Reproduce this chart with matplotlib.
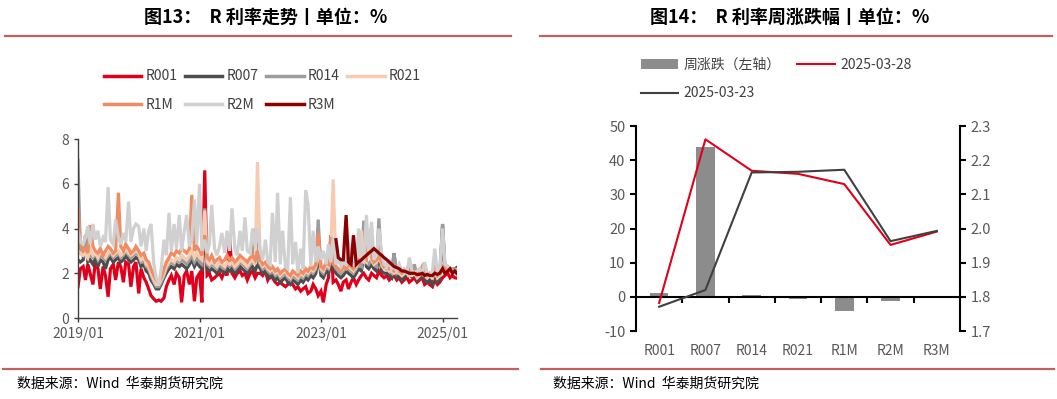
import numpy as np
import pandas as pd
import matplotlib
matplotlib.use("Agg")
import matplotlib.pyplot as plt
from matplotlib.lines import Line2D
import matplotlib.dates as mdates
from matplotlib.ticker import FormatStrFormatter

plt.rcParams['font.family'] = ['Noto Sans CJK SC', 'DejaVu Sans']
plt.rcParams['axes.unicode_minus'] = False

# ---------------- data: left panel (semi-monthly samples) ----------------
dates = list(pd.date_range('2019-01-01', '2025-03-15', freq='SMS')) + [pd.Timestamp('2025-03-28')]

r001 = [1.4, 2.2, 2.3, 1.7, 2.4, 2.0, 1.5, 2.5, 2.2, 1.3, 2.3, 1.9, 0.95, 2.2, 2.4, 1.7, 2.5, 2.3, 1.6, 2.5, 2.4, 1.4, 2.3, 2.5,
        1.1, 2.2, 1.8, 1.6, 1.3, 1.0, 0.85, 0.75, 0.8, 0.75, 0.9, 1.4, 1.7, 1.9, 1.5, 2.0, 1.8, 0.7, 1.9, 2.1, 1.5, 2.1, 0.75, 1.8,
        2.0, 0.7, 6.6, 1.9, 2.0, 1.7, 1.8, 1.9, 2.0, 1.8, 2.1, 1.9, 3.6, 2.0, 1.8, 2.0, 2.1, 1.9, 2.0, 1.7, 2.0, 2.1, 1.8, 2.0,
        2.0, 1.9, 2.1, 1.7, 1.9, 1.8, 1.6, 1.5, 1.6, 1.5, 1.4, 1.5, 1.6, 1.5, 1.3, 1.4, 1.2, 1.3, 1.4, 1.1, 1.2, 1.5, 1.3, 1.0,
        1.2, 0.7, 1.5, 1.8, 3.7, 1.6, 1.7, 1.5, 1.2, 1.6, 1.7, 1.3, 1.6, 1.8, 1.5, 1.7, 1.9, 2.0, 1.8, 1.7, 2.0, 1.9, 1.8, 2.1,
        1.9, 1.8, 1.9, 1.7, 1.8, 1.9, 1.7, 1.8, 1.6, 1.7, 1.8, 1.6, 1.7, 1.8, 1.6, 1.7, 1.8, 1.5, 1.6, 1.5, 1.4, 1.7, 1.5, 1.6,
        1.8, 1.9, 2.0, 1.8, 1.9, 1.8, 1.78]

r007 = [2.6, 2.5, 2.6, 3.7, 2.5, 2.6, 2.4, 2.7, 2.3, 2.6, 2.5, 2.2, 2.6, 2.7, 2.5, 2.6, 2.7, 2.5, 2.6, 2.8, 2.6, 2.5, 2.6, 2.7,
        2.6, 2.3, 2.4, 2.1, 2.0, 1.7, 1.5, 1.3, 1.3, 1.5, 1.8, 2.0, 2.2, 2.3, 2.2, 2.4, 2.3, 2.4, 2.3, 2.2, 2.4, 2.6, 2.3, 2.5,
        2.3, 2.2, 4.0, 2.2, 2.1, 2.2, 2.1, 2.0, 2.2, 2.1, 2.0, 2.2, 2.1, 2.2, 2.0, 2.1, 2.3, 2.2, 2.1, 2.0, 2.2, 2.3, 2.1, 2.4,
        2.2, 2.0, 2.1, 1.9, 1.8, 1.9, 1.7, 1.8, 1.6, 1.7, 1.8, 1.6, 1.5, 1.7, 1.6, 1.5, 1.7, 1.6, 1.8, 1.7, 1.9, 1.8, 2.0, 2.8,
        1.9, 1.8, 2.1, 2.0, 2.4, 2.3, 2.0, 1.9, 1.8, 1.9, 2.1, 2.0, 1.9, 1.8, 2.0, 2.2, 2.1, 2.8, 2.3, 2.2, 2.4, 2.2, 2.1, 2.9,
        2.1, 2.0, 2.0, 1.9, 1.8, 2.9, 1.8, 1.9, 1.7, 1.8, 1.9, 2.4, 1.8, 2.2, 1.7, 1.8, 2.0, 1.7, 1.6, 1.7, 1.5, 2.0, 1.6, 1.7,
        4.2, 2.1, 2.2, 2.1, 2.1, 2.2, 2.26]

r014 = [7.05, 2.9, 2.8, 3.6, 2.7, 2.8, 2.7, 2.9, 2.6, 2.8, 2.7, 2.6, 2.8, 2.9, 2.7, 2.8, 2.9, 2.7, 2.8, 3.0, 2.8, 2.7, 2.8, 2.9,
        2.8, 2.5, 2.6, 2.3, 2.2, 1.9, 1.6, 1.4, 1.4, 1.6, 1.9, 2.2, 2.4, 2.5, 2.4, 2.6, 2.5, 2.6, 2.5, 2.4, 2.6, 2.8, 2.5, 2.7,
        2.5, 2.4, 4.9, 2.4, 2.3, 2.4, 2.3, 2.2, 2.4, 2.3, 2.2, 2.4, 2.3, 2.4, 2.2, 2.3, 2.5, 2.4, 2.3, 2.2, 2.4, 2.5, 4.0, 2.6,
        2.4, 2.2, 2.3, 2.1, 2.0, 2.1, 1.9, 2.0, 1.8, 1.9, 2.0, 1.8, 1.7, 1.9, 1.8, 1.7, 1.9, 1.8, 2.0, 1.9, 2.1, 2.0, 2.2, 4.4,
        2.1, 2.0, 2.3, 2.2, 2.6, 2.5, 2.2, 2.1, 2.0, 2.1, 2.3, 2.2, 2.1, 2.0, 2.2, 2.4, 2.3, 4.35, 2.5, 2.4, 2.6, 2.4, 2.3, 4.45,
        2.3, 2.2, 2.2, 2.1, 2.0, 2.9, 2.0, 2.1, 1.9, 2.0, 2.1, 2.5, 2.0, 2.4, 1.9, 2.0, 2.2, 1.9, 1.8, 1.9, 1.8, 2.2, 1.8, 1.9,
        4.2, 2.3, 2.3, 2.2, 2.2, 2.2, 2.165]

r021 = [3.0, 2.9, 2.8, 2.9, 2.7, 3.1, 2.8, 2.9, 2.7, 3.0, 2.8, 2.7, 2.9, 3.0, 2.8, 2.9, 3.0, 2.8, 2.9, 3.1, 2.9, 2.8, 2.9, 3.0,
        2.9, 2.6, 2.7, 2.4, 2.3, 2.0, 1.7, 1.5, 1.5, 1.7, 2.0, 2.3, 2.5, 2.6, 2.5, 2.7, 2.6, 2.8, 2.7, 2.6, 2.8, 3.0, 2.7, 2.9,
        2.7, 2.6, 4.8, 2.5, 2.4, 2.5, 2.4, 2.3, 2.5, 2.4, 2.3, 2.5, 2.4, 2.5, 2.3, 2.4, 2.6, 2.5, 2.4, 2.3, 2.5, 2.6, 2.4, 6.97,
        2.5, 2.3, 2.4, 2.2, 2.1, 2.2, 2.0, 2.1, 1.9, 2.0, 2.1, 1.9, 1.8, 2.0, 1.9, 1.8, 2.0, 1.9, 2.1, 2.0, 2.2, 2.1, 2.3, 3.0,
        2.2, 2.1, 2.4, 2.3, 3.0, 6.2, 2.3, 2.2, 2.1, 2.2, 4.4, 2.3, 2.2, 2.1, 2.3, 2.5, 3.9, 2.6, 2.5, 4.0, 2.6, 2.4, 2.5, 2.7,
        2.4, 2.2, 2.3, 2.1, 2.1, 2.0, 2.1, 2.0, 1.9, 2.0, 2.1, 1.9, 1.9, 2.0, 1.8, 1.9, 2.2, 1.9, 1.8, 1.9, 1.8, 2.1, 1.8, 1.9,
        2.2, 2.1, 2.2, 2.1, 2.1, 2.1, 2.155]

r1m = [5.0, 3.3, 3.0, 3.1, 2.9, 4.15, 3.2, 3.0, 2.9, 3.1, 2.8, 3.0, 3.2, 3.1, 2.9, 3.0, 5.6, 3.2, 3.0, 3.3, 3.1, 2.9, 3.0, 3.2,
       3.0, 2.8, 2.9, 2.6, 2.5, 2.2, 1.9, 1.7, 1.6, 1.8, 2.2, 2.5, 2.7, 2.9, 2.8, 3.0, 2.9, 3.1, 3.0, 2.9, 3.1, 5.5, 3.0, 3.2,
       3.0, 2.8, 3.7, 2.7, 2.6, 2.8, 2.5, 2.6, 2.7, 2.5, 2.6, 2.8, 2.6, 2.7, 2.5, 2.6, 2.8, 2.7, 2.6, 2.5, 2.7, 2.8, 2.6, 3.0,
       2.6, 2.4, 2.5, 2.3, 2.2, 2.3, 2.1, 2.2, 2.0, 2.1, 2.2, 2.0, 1.9, 2.1, 2.0, 1.9, 2.1, 2.0, 2.2, 2.1, 2.3, 2.2, 2.4, 3.8,
       2.3, 2.2, 2.5, 2.4, 3.6, 2.4, 2.3, 2.2, 2.1, 2.3, 2.2, 2.4, 2.3, 2.2, 2.4, 2.6, 2.5, 2.7, 2.6, 3.6, 2.7, 2.5, 2.6, 2.8,
       2.5, 2.3, 2.4, 2.2, 2.2, 2.1, 2.2, 2.1, 2.0, 2.1, 2.2, 2.0, 2.0, 2.1, 1.9, 2.0, 2.3, 2.0, 1.9, 2.0, 1.9, 2.2, 1.9, 2.0,
       2.3, 2.2, 2.3, 2.2, 2.1, 2.1, 2.13]

r2m = [3.9, 3.4, 3.3, 3.6, 4.1, 3.3, 4.2, 3.5, 3.9, 3.2, 3.6, 3.4, 5.85, 3.5, 3.3, 4.4, 3.6, 3.3, 3.8, 3.4, 5.2, 3.4, 4.0, 4.2,
       4.1, 3.2, 4.0, 3.0, 3.9, 4.2, 2.4, 1.8, 1.5, 2.2, 3.5, 2.8, 4.7, 3.0, 4.2, 3.1, 4.6, 3.0, 3.9, 4.6, 3.2, 3.5, 5.3, 3.3,
       6.0, 3.0, 3.5, 2.9, 3.3, 5.05, 3.1, 2.8, 3.2, 3.8, 2.9, 3.9, 3.0, 4.9, 3.1, 2.8, 3.9, 3.0, 4.5, 3.0, 2.9, 4.0, 3.2, 4.0,
       3.0, 2.6, 3.5, 2.5, 2.4, 4.7, 2.5, 5.6, 2.4, 3.9, 2.3, 2.2, 5.4, 2.4, 3.4, 2.0, 3.1, 2.2, 5.7, 5.1, 2.3, 3.9, 2.5, 3.2,
       2.6, 3.0, 2.4, 3.3, 2.5, 3.6, 2.4, 2.6, 2.3, 2.5, 2.4, 3.4, 2.5, 2.4, 2.6, 4.0, 2.6, 2.5, 4.6, 2.7, 4.3, 2.6, 2.8, 4.0,
       2.9, 2.4, 2.3, 2.6, 2.2, 2.3, 2.1, 2.4, 2.1, 2.2, 2.0, 2.7, 2.1, 2.0, 2.1, 2.2, 2.0, 2.5, 2.0, 1.9, 2.1, 3.1, 2.0, 2.2,
       4.0, 2.4, 2.3, 2.2, 2.1, 2.0, 1.95]

r3m_start = '2023-04-01'
r3m = [3.5, 2.7, 2.6, 2.6, 4.6, 2.5, 2.4, 3.7, 2.4, 2.5, 2.6, 2.7, 2.8, 2.9, 3.0, 3.1, 3.0, 2.9,
       2.8, 2.7, 2.6, 2.5, 2.4, 2.3, 2.25, 2.2, 2.1, 2.1, 2.05, 2.0, 2.0, 2.0, 1.95, 1.95, 2.0, 1.9, 1.95, 1.9, 1.9, 2.0, 1.95, 2.0,
       2.2, 2.0, 2.1, 2.2, 2.0, 2.1, 1.99]

# ---------------- data: right panel ----------------
categories = ['R001', 'R007', 'R014', 'R021', 'R1M', 'R2M', 'R3M']
weekly_change = [1.1, 44.0, 0.4, -0.5, -4.1, -1.1, -0.2]
rate_0328 = [1.782, 2.261, 2.169, 2.160, 2.130, 1.952, 1.991]
rate_0323 = [1.771, 1.820, 2.164, 2.166, 2.172, 1.963, 1.993]

# ---------------- figure ----------------
fig = plt.figure(figsize=(10.57, 3.99), dpi=100)
tick_color = '#595959'

# ---- left panel ----
ax1 = fig.add_axes([0.0738, 0.203, 0.3586, 0.4486])
d = pd.to_datetime(dates)
r3m_dates = [t for t in d if t >= pd.Timestamp(r3m_start)]
series = [('R001', r001, '#E0001B', d), ('R007', r007, '#4D4D4D', d),
          ('R014', r014, '#9C9C9C', d), ('R021', r021, '#F8CBB0', d),
          ('R1M', r1m, '#F08C64', d), ('R2M', r2m, '#D0D0D0', d),
          ('R3M', r3m, '#8B0000', r3m_dates)]
handles = {}
for name, vals, col, dd in series:
    assert len(vals) == len(dd), (name, len(vals), len(dd))
    h, = ax1.plot(dd, vals, color=col, lw=2.3, label=name, solid_joinstyle='miter')
    handles[name] = h

ax1.set_ylim(0, 8)
ax1.set_yticks([0, 2, 4, 6, 8])
ax1.set_xlim(pd.Timestamp('2019-01-01'), pd.Timestamp('2025-03-29'))
ax1.set_xticks([pd.Timestamp('2019-01-01'), pd.Timestamp('2021-01-01'),
                pd.Timestamp('2023-01-01'), pd.Timestamp('2025-01-01')])
ax1.xaxis.set_major_formatter(mdates.DateFormatter('%Y/%m'))
for s in ['top', 'right']:
    ax1.spines[s].set_visible(False)
for s in ['left', 'bottom']:
    ax1.spines[s].set_color('#404040')
    ax1.spines[s].set_linewidth(1.0)
ax1.tick_params(axis='both', colors='#404040', labelcolor=tick_color, labelsize=10,
                length=3, width=1.0, direction='out')
order = ['R001', 'R1M', 'R007', 'R2M', 'R014', 'R3M', 'R021']
leg_handles = [Line2D([], [], color=handles[n].get_color(), lw=2.5) for n in order]
fig.legend(leg_handles, order, ncol=4, frameon=False,
           loc='upper left', bbox_to_anchor=(0.098, 0.826), fontsize=10,
           labelcolor='#404040', handlelength=2.7, handletextpad=0.3,
           columnspacing=0.55, labelspacing=1.05, borderaxespad=0, borderpad=0)

# ---- right panel ----
ax2 = fig.add_axes([0.6017, 0.1704, 0.3065, 0.5138])
x = np.arange(len(categories))
bars = ax2.bar(x, weekly_change, width=0.4, color='#8C8C8C', zorder=2, label='周涨跌（左轴）')
ax2.set_ylim(-10, 50)
ax2.set_yticks([-10, 0, 10, 20, 30, 40, 50])
ax2.set_xlim(-0.5, len(categories) - 0.5)
ax2.spines['top'].set_visible(False)
ax2.spines['right'].set_visible(False)
ax2.spines['left'].set_color('black')
ax2.spines['left'].set_linewidth(1.5)
ax2.spines['bottom'].set_position(('data', 0))
ax2.spines['bottom'].set_color('black')
ax2.spines['bottom'].set_linewidth(1.5)
ax2.set_xticks(np.arange(0.5, len(categories) - 1, 1))
ax2.set_xticklabels([])
ax2.tick_params(axis='x', length=4, width=1.5, direction='out', color='black')
ax2.tick_params(axis='y', length=4, width=1.5, direction='out', color='black',
                labelcolor=tick_color, labelsize=10.5)
sec = ax2.secondary_xaxis(0.0)
sec.set_xticks(x)
sec.set_xticklabels(categories)
sec.spines['bottom'].set_visible(False)
sec.tick_params(length=0, labelcolor=tick_color, labelsize=10, pad=9)

ax3 = ax2.twinx()
l_red, = ax3.plot(x, rate_0328, color='#E0001B', lw=1.5, label='2025-03-28', zorder=3)
l_blk, = ax3.plot(x, rate_0323, color='#404040', lw=1.5, label='2025-03-23', zorder=3)
ax3.set_ylim(1.7, 2.3)
ax3.set_yticks([1.7, 1.8, 1.9, 2.0, 2.1, 2.2, 2.3])
ax3.yaxis.set_major_formatter(FormatStrFormatter('%.1f'))
for s in ['top', 'left', 'bottom']:
    ax3.spines[s].set_visible(False)
ax3.spines['right'].set_color('black')
ax3.spines['right'].set_linewidth(1.5)
ax3.tick_params(axis='y', length=4, width=1.5, direction='out', color='black',
                labelcolor=tick_color, labelsize=10.5)

fig.legend([bars, l_blk, l_red], ['周涨跌（左轴）', '2025-03-23', '2025-03-28'], ncol=2,
           frameon=False, loc='upper left', bbox_to_anchor=(0.606, 0.855), fontsize=10,
           labelcolor='#404040', handlelength=2.7, handletextpad=0.4,
           columnspacing=1.2, labelspacing=1.05, borderaxespad=0, borderpad=0)

# ---- titles, rules, footers ----
fig.text(0.251, 0.957, '图13：  R 利率走势丨单位：%', ha='center', va='center',
         fontsize=13, fontweight='bold', color='black')
fig.text(0.747, 0.957, '图14：  R 利率周涨跌幅丨单位：%', ha='center', va='center',
         fontsize=13, fontweight='bold', color='black')
rule_col = '#C06060'
fig.add_artist(Line2D([0.005, 0.483], [0.910, 0.910], transform=fig.transFigure, color=rule_col, lw=1.6))
fig.add_artist(Line2D([0.511, 0.995], [0.910, 0.910], transform=fig.transFigure, color=rule_col, lw=1.6))
fig.add_artist(Line2D([0.003, 0.490], [0.075, 0.075], transform=fig.transFigure, color=rule_col, lw=1.6))
fig.add_artist(Line2D([0.512, 0.997], [0.075, 0.075], transform=fig.transFigure, color=rule_col, lw=1.6))
fig.text(0.016, 0.037, '数据来源：Wind  华泰期货研究院', ha='left', va='center', fontsize=10, color='black')
fig.text(0.523, 0.037, '数据来源：Wind  华泰期货研究院', ha='left', va='center', fontsize=10, color='black')

fig.savefig('out.png', dpi=100)
